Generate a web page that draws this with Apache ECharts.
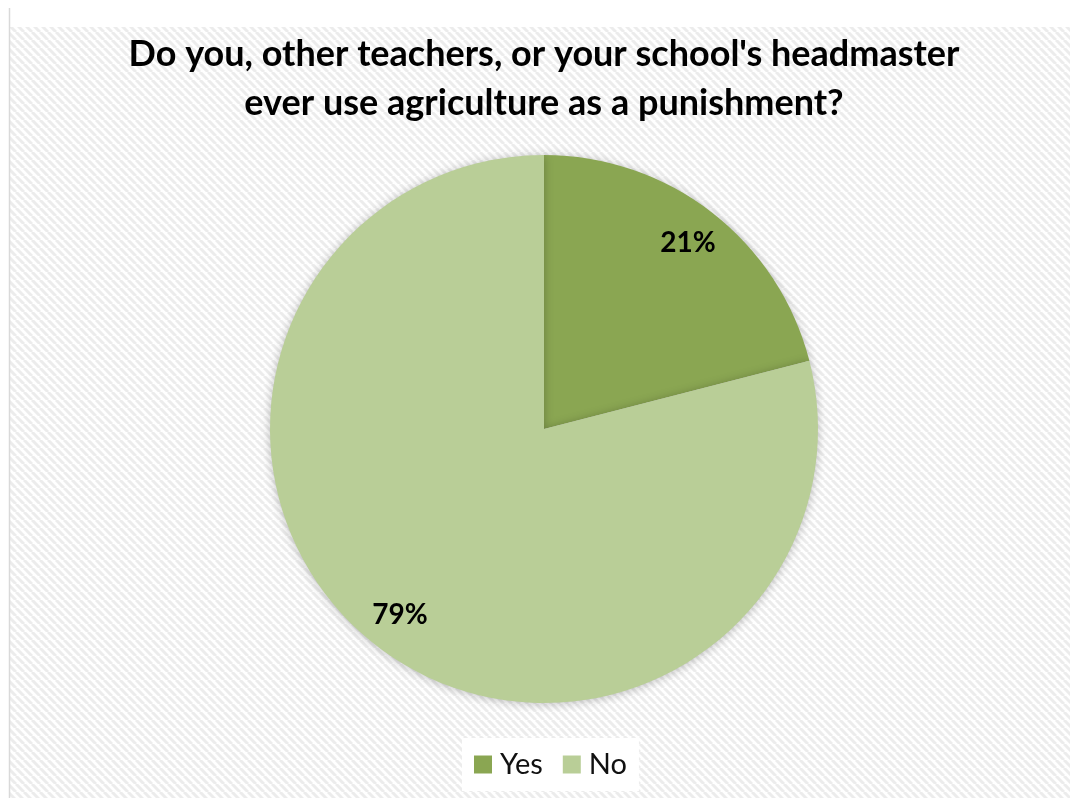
<!DOCTYPE html>
<html>
<head>
<meta charset="utf-8">
<script src="https://cdn.jsdelivr.net/npm/echarts@6/dist/echarts.min.js"></script>
<style>
  html, body { margin: 0; padding: 0; background: #fff; }
  #chart { width: 1070px; height: 798px; }
</style>
</head>
<body>
<div id="chart"></div>
<script>
// Survey answers and their shares (percent)
const categories = ['Yes', 'No'];
const shares = [21, 79];
const sliceColors = ['#8aa652', '#b9ce97'];
const titleLines = [
  "Do you, other teachers, or your school's headmaster",
  'ever use agriculture as a punishment?'
];

// Light diagonal hatch used as the chart-area fill
function makeHatch() {
  const c = document.createElement('canvas');
  const s = 8;
  c.width = s; c.height = s;
  const g = c.getContext('2d');
  g.fillStyle = '#ffffff';
  g.fillRect(0, 0, s, s);
  g.strokeStyle = '#ececec';
  g.lineWidth = 3;
  for (let k = -1; k <= 1; k++) {
    g.beginPath();
    g.moveTo(k * s, 0);
    g.lineTo(k * s + s, s);
    g.stroke();
  }
  return c;
}

const pieData = categories.map((name, i) => ({
  name,
  value: shares[i],
  itemStyle: { color: sliceColors[i] }
}));

const chart = echarts.init(document.getElementById('chart'));
chart.setOption({
  animation: false,
  backgroundColor: '#ffffff',
  graphic: [
    {
      type: 'rect',
      z: -10,
      shape: { x: 10, y: 27, width: 1070, height: 780 },
      style: { fill: { image: makeHatch(), repeat: 'repeat' } },
      silent: true
    },
    {
      type: 'line',
      z: -9,
      shape: { x1: 9.5, y1: 8, x2: 9.5, y2: 798 },
      style: { stroke: '#d9d9d9', lineWidth: 1.5 },
      silent: true
    },
    {
      type: 'text',
      x: 544,
      y: 30,
      style: {
        text: titleLines.join('\n'),
        fill: '#000000',
        font: 'bold 36px Lato',
        lineHeight: 49,
        align: 'center',
        verticalAlign: 'top'
      }
    }
  ],
  legend: {
    data: categories,
    left: 462,
    top: 738,
    itemWidth: 18,
    itemHeight: 18,
    itemGap: 20,
    padding: [12, 12, 12, 12],
    backgroundColor: '#ffffff',
    icon: 'rect',
    textStyle: { fontSize: 29, color: '#111111', fontFamily: 'Lato', padding: [0, 0, 0, 3] }
  },
  series: [
    {
      type: 'pie',
      center: [544, 429],
      radius: 274,
      startAngle: 90,
      clockwise: true,
      label: { show: false },
      labelLine: { show: false },
      itemStyle: {
        shadowBlur: 10,
        shadowColor: 'rgba(0,0,0,0.25)',
        shadowOffsetY: 1
      },
      emphasis: { disabled: true },
      data: pieData
    },
    {
      // transparent ring that carries the percentage labels near the rim
      type: 'pie',
      center: [544, 429],
      radius: [190, 274],
      startAngle: 90,
      clockwise: true,
      silent: true,
      legendHoverLink: false,
      itemStyle: { color: 'rgba(0,0,0,0)' },
      label: {
        show: true,
        position: 'inside',
        formatter: '{c}%',
        fontSize: 28,
        fontWeight: 'bold',
        fontFamily: 'Lato',
        color: '#000000'
      },
      labelLine: { show: false },
      emphasis: { disabled: true },
      data: categories.map((name, i) => ({ name: name + ' ', value: shares[i] }))
    }
  ]
});
</script>
</body>
</html>
